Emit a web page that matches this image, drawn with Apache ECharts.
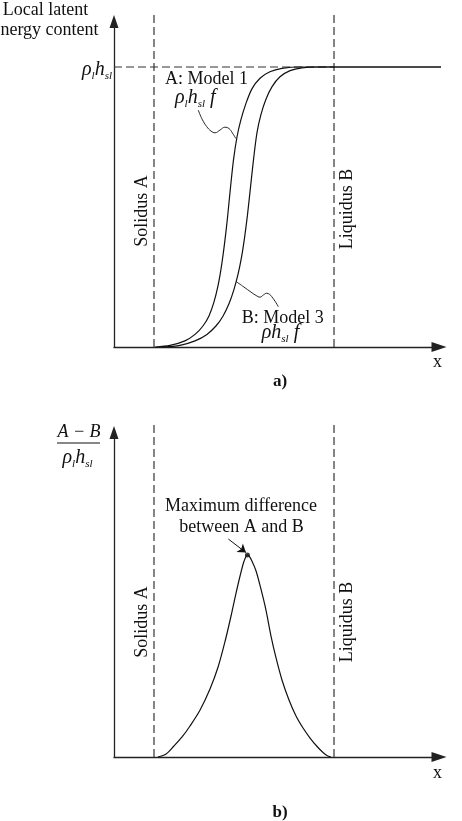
<!DOCTYPE html>
<html>
<head>
<meta charset="utf-8">
<script src="https://cdn.jsdelivr.net/npm/echarts@6/dist/echarts.min.js"></script>
<style>
  html, body { margin: 0; padding: 0; background: #fff; }
  #chart { width: 462px; height: 821px; }
</style>
</head>
<body>
<div id="chart"></div>
<script>
// x runs from solidus A (0) to liquidus B (1)
const solidusX = 0;
const liquidusX = 1;
const topLevel = 1; // rho_l h_sl

// a) local latent energy content / (rho_l h_sl)
const curveA = [
  [0.006, 0], [0.089, 0.006], [0.172, 0.022], [0.228, 0.045], [0.272, 0.075],
  [0.306, 0.112], [0.333, 0.16], [0.356, 0.22], [0.375, 0.29], [0.392, 0.37],
  [0.408, 0.46], [0.425, 0.57], [0.442, 0.67], [0.461, 0.75], [0.483, 0.812],
  [0.511, 0.87], [0.544, 0.922], [0.589, 0.96], [0.644, 0.983], [0.711, 0.995],
  [0.811, 1], [1.0, 1], [1.622, 1]
];
const curveB = [
  [0.05, 0], [0.144, 0.006], [0.228, 0.022], [0.294, 0.045], [0.344, 0.075],
  [0.383, 0.11], [0.417, 0.155], [0.444, 0.205], [0.467, 0.26], [0.486, 0.32],
  [0.503, 0.39], [0.519, 0.47], [0.536, 0.57], [0.553, 0.67], [0.572, 0.765],
  [0.594, 0.83], [0.622, 0.885], [0.656, 0.93], [0.7, 0.965], [0.756, 0.987],
  [0.822, 0.997], [0.911, 1], [1.0, 1], [1.622, 1]
];

// b) (A - B) / (rho_l h_sl)
const diffCurve = [
  [0.022, 0], [0.067, 0.0055], [0.111, 0.0203], [0.156, 0.037], [0.2, 0.0573],
  [0.256, 0.0869], [0.311, 0.1257], [0.356, 0.1664], [0.394, 0.2127], [0.428, 0.2607],
  [0.456, 0.3033], [0.478, 0.3347], [0.497, 0.3587], [0.511, 0.3707], [0.519, 0.3735],
  [0.528, 0.3717], [0.544, 0.3624], [0.567, 0.3439], [0.594, 0.3107], [0.622, 0.2718],
  [0.65, 0.2237], [0.678, 0.1831], [0.711, 0.1424], [0.75, 0.1054], [0.789, 0.0758],
  [0.828, 0.0536], [0.867, 0.0351], [0.906, 0.0194], [0.939, 0.0083], [0.961, 0.0028],
  [0.983, 0]
];
const peakPoint = [0.519, 0.3735];
const arrowFrom = [0.413, 0.403];
const arrowTo = [0.511, 0.378];

// wavy leader lines from the labels to the curves
const leaderA = [
  [0.246, 0.846], [0.267, 0.814], [0.293, 0.787], [0.317, 0.771], [0.339, 0.765],
  [0.367, 0.775], [0.394, 0.785], [0.417, 0.78], [0.436, 0.764], [0.454, 0.745]
];
const leaderB = [
  [0.458, 0.233], [0.5, 0.214], [0.539, 0.196], [0.567, 0.184], [0.589, 0.178],
  [0.608, 0.186], [0.626, 0.192], [0.642, 0.188], [0.654, 0.18], [0.672, 0.164],
  [0.691, 0.144]
];

const serif = '"Liberation Serif", "Times New Roman", serif';
const ink = '#111';
const dashColor = '#333';

var myChart = echarts.init(document.getElementById('chart'));

const axisX = (idx) => ({
  type: 'value', gridIndex: idx, min: -0.2222, max: 1.5833,
  axisLine: { onZero: false, symbol: ['none', 'triangle'], symbolSize: [10, 15],
    lineStyle: { color: '#222', width: 1.3 } },
  axisTick: { show: false }, axisLabel: { show: false }, splitLine: { show: false }
});
const axisY = (idx, max) => ({
  type: 'value', gridIndex: idx, min: 0, max: max,
  axisLine: { show: true, onZero: false, symbol: ['none', 'triangle'], symbolSize: [9, 13],
    lineStyle: { color: '#222', width: 1.3 } },
  axisTick: { show: false }, axisLabel: { show: false }, splitLine: { show: false }
});

const dashed = (idx, data) => ({
  type: 'line', xAxisIndex: idx, yAxisIndex: idx, data: data, symbol: 'none',
  clip: false, silent: true,
  lineStyle: { color: dashColor, width: 1.2, type: [8, 4] }
});
const solid = (idx, data, width, smooth) => ({
  type: 'line', xAxisIndex: idx, yAxisIndex: idx, data: data, symbol: 'none',
  clip: false, silent: true, smooth: smooth,
  lineStyle: { color: ink, width: width }
});

function txt(x, y, text, extra) {
  return Object.assign({
    type: 'text', x: x, y: y, silent: true,
    style: Object.assign({
      text: text, fill: ink, fontFamily: serif, fontSize: 18,
      align: 'center', verticalAlign: 'middle',
      textAlign: 'center', textVerticalAlign: 'middle'
    }, extra && extra.style)
  }, extra && extra.el);
}
const rhoRich = {
  g: { fontFamily: serif, fontStyle: 'italic', fontSize: 20, lineHeight: 24, fill: ink },
  s: { fontFamily: serif, fontStyle: 'italic', fontSize: 11, lineHeight: 12, verticalAlign: 'bottom', fill: ink }
};
function rich(x, y, text, align) {
  return {
    type: 'text', x: x, y: y, silent: true,
    style: { text: text, rich: rhoRich, fill: ink, fontFamily: serif,
      align: align, verticalAlign: 'middle', textAlign: align, textVerticalAlign: 'middle' }
  };
}

var option = {
  animation: false,
  grid: [
    { left: 114, top: 21.5, width: 325, height: 325.5 },
    { left: 114, top: 432.5, width: 325, height: 324.5 }
  ],
  xAxis: [axisX(0), axisX(1)],
  yAxis: [axisY(0, 1.1625), axisY(1, 0.6)],
  series: [
    dashed(0, [[solidusX, 0], [solidusX, 1.19]]),
    dashed(0, [[liquidusX, 0], [liquidusX, 1.19]]),
    dashed(0, [[-0.2222, topLevel], [liquidusX, topLevel]]),
    solid(0, curveA, 1.2, 0.3),
    solid(0, curveB, 1.2, 0.3),
    solid(0, leaderA, 0.9, 0.4),
    solid(0, leaderB, 0.9, 0.4),
    dashed(1, [[solidusX, 0], [solidusX, 0.614]]),
    dashed(1, [[liquidusX, 0], [liquidusX, 0.614]]),
    solid(1, diffCurve, 1.2, 0.3),
    {
      type: 'scatter', xAxisIndex: 1, yAxisIndex: 1, data: [peakPoint],
      symbolSize: 5, itemStyle: { color: ink }, silent: true
    },
    {
      type: 'lines', coordinateSystem: 'cartesian2d', xAxisIndex: 1, yAxisIndex: 1,
      symbol: ['none', 'arrow'], symbolSize: 8, silent: true,
      lineStyle: { color: ink, width: 1, opacity: 1 },
      data: [{ coords: [arrowFrom, arrowTo] }]
    }
  ],
  graphic: [
    txt(45.5, 10, 'Local latent'),
    txt(45.5, 30, 'energy content'),
    rich(112, 70, '{g|ρ}{s|l}{g|h}{s|sl}', 'right'),
    txt(165, 79, 'A: Model 1', { style: { align: 'left', textAlign: 'left' } }),
    rich(175, 98, '{g|ρ}{s|l}{g|h}{s|sl}{g| f}', 'left'),
    txt(241.7, 318, 'B: Model 3', { style: { align: 'left', textAlign: 'left' } }),
    rich(261.7, 333, '{g|ρh}{s|sl}{g| f}', 'left'),
    txt(142, 211, 'Solidus A', { el: { rotation: Math.PI / 2 } }),
    txt(347, 209, 'Liquidus B', { el: { rotation: Math.PI / 2 } }),
    txt(437.5, 362, 'x'),
    txt(280, 382, 'a)', { style: { fontWeight: 'bold', fontSize: 17 } }),
    txt(79, 432, 'A − B', { style: { fontStyle: 'italic' } }),
    { type: 'line', silent: true, shape: { x1: 57, y1: 443, x2: 100, y2: 443 },
      style: { stroke: ink, lineWidth: 1 } },
    rich(77.5, 458, '{g|ρ}{s|l}{g|h}{s|sl}', 'center'),
    txt(241, 506, 'Maximum difference'),
    txt(241.5, 527.5, 'between A and B'),
    txt(142, 622, 'Solidus A', { el: { rotation: Math.PI / 2 } }),
    txt(347, 622, 'Liquidus B', { el: { rotation: Math.PI / 2 } }),
    txt(437.5, 773, 'x'),
    txt(280, 813, 'b)', { style: { fontWeight: 'bold', fontSize: 17 } })
  ]
};

option && myChart.setOption(option);
</script>
</body>
</html>
